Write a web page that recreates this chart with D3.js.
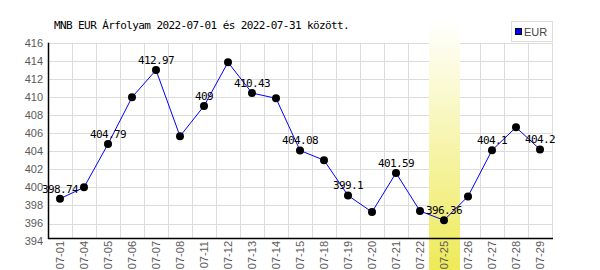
<!DOCTYPE html>
<html>
<head>
<meta charset="utf-8">
<script src="https://cdn.jsdelivr.net/npm/d3@7"></script>
<style>
  body { margin: 0; background: #fff; }
  svg { display: block; }
</style>
</head>
<body>
<svg id="chart" width="600" height="270"></svg>
<script>
// Data
const dates = ["07-01", "07-04", "07-05", "07-06", "07-07", "07-08", "07-11", "07-12", "07-13", "07-14",
               "07-15", "07-18", "07-19", "07-20", "07-21", "07-22", "07-25", "07-26", "07-27", "07-28", "07-29"];
const rates = [398.74, 400.0, 404.79, 409.96, 412.97, 405.65, 409.0, 413.83, 410.43, 409.85,
               404.08, 403.0, 399.1, 397.27, 401.59, 397.38, 396.36, 399.0, 404.1, 406.64, 404.2];
// labels shown above the points (empty = no label)
const pointLabels = ["398.74", "", "404.79", "", "412.97", "", "409", "", "410.43", "",
                     "404.08", "", "399.1", "", "401.59", "", "396.36", "", "404.1", "", "404.2"];
const yTicks = [394, 396, 398, 400, 402, 404, 406, 408, 410, 412, 414, 416];
const highlightDate = "07-25";
const seriesName = "EUR";
const title = "MNB EUR Árfolyam 2022-07-01 és 2022-07-31 között.";

const svg = d3.select("#chart");

const plot = { left: 48, right: 552, top: 42.7, bottom: 238 };

const x = d3.scaleBand().domain(dates).range([plot.left, plot.right]);
const y = d3.scaleLinear().domain([394, 416]).range([241.6, 42.7]);

// gradient for the highlighted day
const defs = svg.append("defs");
const grad = defs.append("linearGradient")
    .attr("id", "hl")
    .attr("x1", 0).attr("y1", 0).attr("x2", 0).attr("y2", 1);
grad.append("stop").attr("offset", "0%").attr("stop-color", "#ffffff");
grad.append("stop").attr("offset", "100%").attr("stop-color", "#eeea58");

// horizontal gridlines
svg.append("g")
    .selectAll("line")
    .data(yTicks.filter(t => y(t) <= plot.bottom))
    .enter()
    .append("line")
    .attr("x1", plot.left)
    .attr("x2", plot.right)
    .attr("y1", d => Math.round(y(d)) + 0.5)
    .attr("y2", d => Math.round(y(d)) + 0.5)
    .attr("stroke", "#dcdcdc");

// vertical gridlines on the band edges
svg.append("g")
    .selectAll("line")
    .data(dates)
    .enter()
    .append("line")
    .attr("x1", d => x(d) + x.bandwidth() + 0.5)
    .attr("x2", d => x(d) + x.bandwidth() + 0.5)
    .attr("y1", plot.top)
    .attr("y2", plot.bottom)
    .attr("stroke", "#dcdcdc");

// highlighted day band
svg.append("rect")
    .attr("x", x(highlightDate) - 3)
    .attr("width", x.bandwidth() + 7)
    .attr("y", 21)
    .attr("height", 270 - 21)
    .attr("fill", "url(#hl)");

// axis lines
svg.append("line")
    .attr("x1", plot.left + 0.5).attr("x2", plot.left + 0.5)
    .attr("y1", plot.top).attr("y2", plot.bottom + 1)
    .attr("stroke", "#000").attr("stroke-width", 1.5);
svg.append("line")
    .attr("x1", plot.left).attr("x2", plot.right + 1)
    .attr("y1", plot.bottom + 0.5).attr("y2", plot.bottom + 0.5)
    .attr("stroke", "#000").attr("stroke-width", 1.5);

// y tick labels
svg.append("g")
    .selectAll("text")
    .data(yTicks)
    .enter()
    .append("text")
    .attr("x", 43)
    .attr("y", d => y(d))
    .attr("dy", "0.35em")
    .attr("text-anchor", "end")
    .style("font-family", "Liberation Sans, Arial, sans-serif")
    .style("font-size", "11px")
    .attr("fill", "#5a5a5a")
    .text(d => d);

// x tick labels (rotated)
svg.append("g")
    .selectAll("text")
    .data(dates)
    .enter()
    .append("text")
    .attr("transform", d => `translate(${x(d) + x.bandwidth() / 2 + 4}, 241) rotate(-90)`)
    .attr("text-anchor", "end")
    .style("font-family", "Liberation Sans, Arial, sans-serif")
    .style("font-size", "11px")
    .attr("fill", "#5a5a5a")
    .text(d => d);

// line
const line = d3.line()
    .x((d, i) => x(dates[i]) + x.bandwidth() / 2)
    .y(d => y(d));

svg.append("path")
    .datum(rates)
    .attr("d", line)
    .attr("fill", "none")
    .attr("stroke", "#0000ff")
    .attr("stroke-width", 1);

// points
svg.append("g")
    .selectAll("circle")
    .data(rates)
    .enter()
    .append("circle")
    .attr("cx", (d, i) => x(dates[i]) + x.bandwidth() / 2)
    .attr("cy", d => y(d))
    .attr("r", 4)
    .attr("fill", "#000");

// value labels
svg.append("g")
    .selectAll("text")
    .data(rates)
    .enter()
    .append("text")
    .attr("x", (d, i) => x(dates[i]) + x.bandwidth() / 2)
    .attr("y", d => y(d) - 6)
    .attr("text-anchor", "middle")
    .style("font-family", "DejaVu Sans Mono, monospace")
    .style("font-size", "11px")
    .style("letter-spacing", "-0.6px")
    .attr("fill", "#000")
    .text((d, i) => pointLabels[i]);

// title
svg.append("text")
    .attr("x", 54)
    .attr("y", 29)
    .style("font-family", "DejaVu Sans Mono, monospace")
    .style("font-size", "11px")
    .style("letter-spacing", "-0.6px")
    .attr("fill", "#000")
    .text(title);

// legend
const legend = svg.append("g");
legend.append("rect")
    .attr("x", 511.5).attr("y", 21.5)
    .attr("width", 41).attr("height", 20)
    .attr("fill", "#fff")
    .attr("stroke", "#dcdcdc");
legend.append("rect")
    .attr("x", 515.5).attr("y", 28.5)
    .attr("width", 6).attr("height", 6)
    .attr("fill", "#0000ff")
    .attr("stroke", "#000");
legend.append("text")
    .attr("x", 524)
    .attr("y", 36)
    .style("font-family", "Liberation Sans, Arial, sans-serif")
    .style("font-size", "11px")
    .attr("fill", "#444")
    .text(seriesName);
</script>
</body>
</html>
